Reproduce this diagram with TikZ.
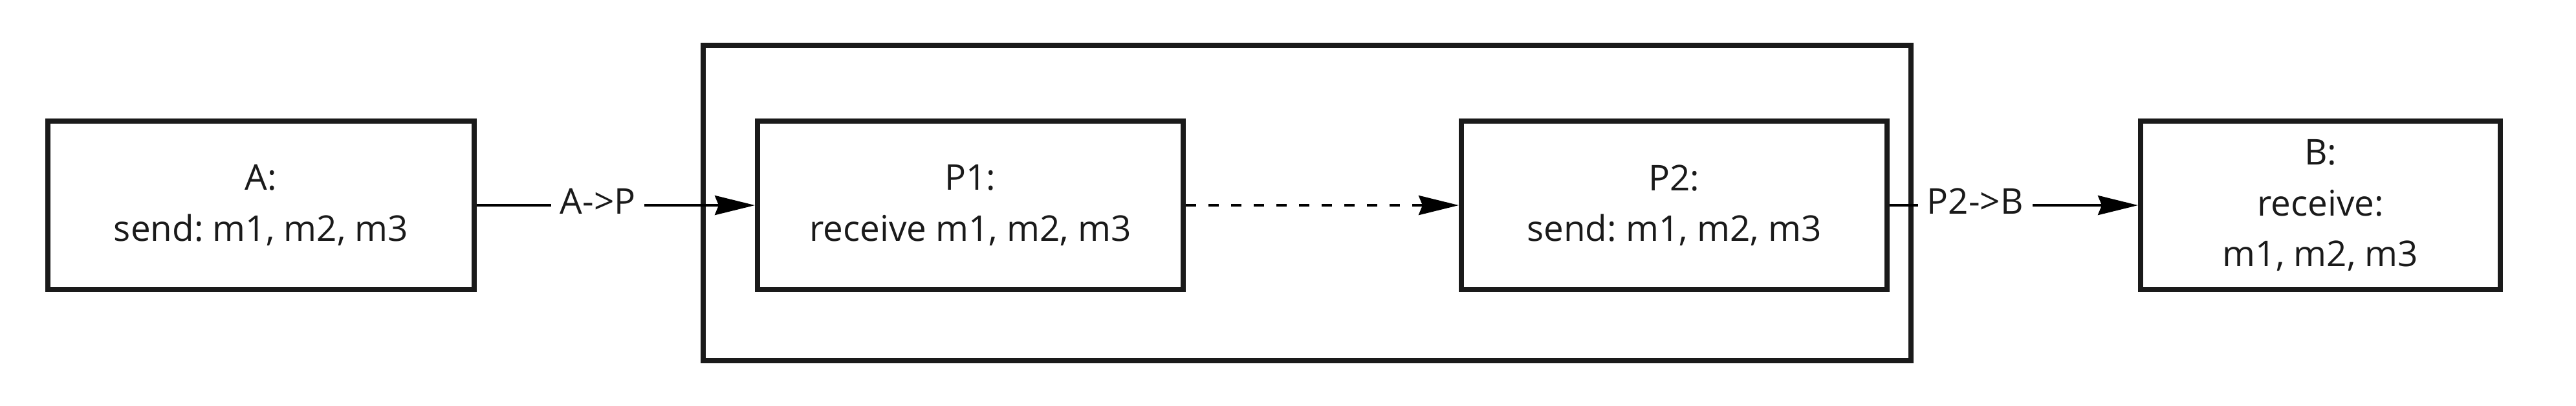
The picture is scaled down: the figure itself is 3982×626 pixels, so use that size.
\documentclass[tikz,border=0pt]{standalone}
\usepackage{fontspec}
\setmainfont{Open Sans}
\usetikzlibrary{arrows.meta}
\definecolor{ink}{RGB}{26,26,26}
\frenchspacing
\begin{document}
\begin{tikzpicture}[x=0.25pt,y=-0.25pt,
  box/.style={draw=ink, line width=2pt, rectangle, inner sep=0pt,
    minimum height=65pt, align=center, text=ink,
    font=\fontsize{13.7pt}{19.6pt}\selectfont\frenchspacing},
  frame/.style={draw=ink, line width=2pt, rectangle, inner sep=0pt},
  edge/.style={draw=black, line width=1pt,
    -{Stealth[length=15.5pt,width=7.5pt,inset=1.5pt]}},
  lab/.style={fill=white, text=ink, inner xsep=3.5pt, inner ysep=1pt,
    font=\fontsize{13.7pt}{16.8pt}\selectfont}]
\useasboundingbox (0,0) rectangle (3982,626);
\node[frame, minimum width=466.75pt, minimum height=121.875pt] (C) at (2020.5,313.25) {};
\node[box, minimum width=164.75pt] (A) at (403.5,317) {A:\\send: m1, m2, m3};
\node[box, minimum width=164.5pt] (P1) at (1500,317) {P1:\\receive m1, m2, m3};
\node[box, minimum width=164.5pt] (P2) at (2588,317) {P2:\\send: m1, m2, m3};
\node[box, minimum width=139pt] (B) at (3587,317) {B:\\receive:\\m1, m2, m3};
\draw[edge] (A) -- node[lab, pos=.435, yshift=1.5pt] {A->P} (P1);
\draw[edge, dash pattern=on 4pt off 4.75pt] (P1) -- (P2);
\draw[edge] (P2) -- node[lab, pos=.344, yshift=1.5pt] {P2->B} (B);
\end{tikzpicture}
\end{document}
